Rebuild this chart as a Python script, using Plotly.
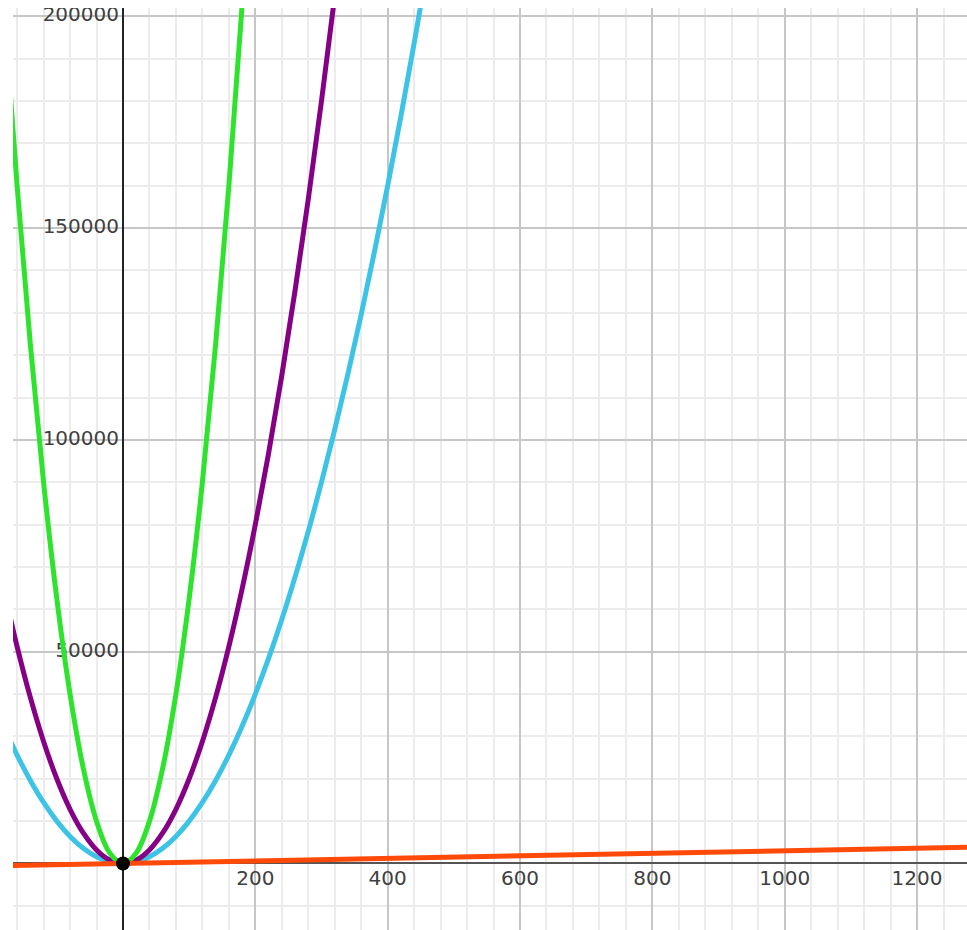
import plotly.graph_objects as go

# Sampled points of each curve
green_x = [-180, -160, -140, -120, -100, -80, -60, -40, -20, 0, 20, 40, 60, 80, 100, 120, 140, 160, 180]
green_y = [202500, 160000, 122500, 90000, 62500, 40000, 22500, 10000, 2500, 0,
           2500, 10000, 22500, 40000, 62500, 90000, 122500, 160000, 202500]

purple_x = [-180, -160, -140, -120, -100, -80, -60, -40, -20, 0, 20, 40, 60, 80, 100,
            120, 140, 160, 180, 200, 220, 240, 260, 280, 300, 320]
purple_y = [64800, 51200, 39200, 28800, 20000, 12800, 7200, 3200, 800, 0, 800, 3200, 7200,
            12800, 20000, 28800, 39200, 51200, 64800, 80000, 96800, 115200, 135200, 156800,
            180000, 204800]

cyan_x = [-180, -160, -140, -120, -100, -80, -60, -40, -20, 0, 20, 40, 60, 80, 100, 120,
          140, 160, 180, 200, 220, 240, 260, 280, 300, 320, 340, 360, 380, 400, 420, 440, 460]
cyan_y = [32400, 25600, 19600, 14400, 10000, 6400, 3600, 1600, 400, 0, 400, 1600, 3600, 6400,
          10000, 14400, 19600, 25600, 32400, 40000, 48400, 57600, 67600, 78400, 90000, 102400,
          115600, 129600, 144400, 160000, 176400, 193600, 211600]

orange_x = [-200, 1300]
orange_y = [-600, 3900]

origin_x = [0]
origin_y = [0]

# Tick labels
x_ticks = [200, 400, 600, 800, 1000, 1200]
y_ticks = [50000, 100000, 150000, 200000]

label_font = dict(family="DejaVu Sans", size=20, color="#404040")
x_label_drop = -1600   # pushes the x labels a little below the axis
y_label_gap = -6       # keeps the y labels clear of the axis

fig = go.Figure()

# Tick labels drawn first so the curves pass over them
fig.add_trace(go.Scatter(
    x=x_ticks, y=[x_label_drop] * len(x_ticks), mode="text",
    text=[str(v) for v in x_ticks], textposition="bottom center",
    textfont=label_font, hoverinfo="skip", showlegend=False))
fig.add_trace(go.Scatter(
    x=[y_label_gap] * len(y_ticks), y=y_ticks, mode="text",
    text=[str(v) for v in y_ticks], textposition="middle left",
    textfont=label_font, hoverinfo="skip", showlegend=False))

curve_w = 5
fig.add_trace(go.Scatter(x=cyan_x, y=cyan_y, mode="lines", line_shape="spline",
                         line=dict(color="#3cc3e6", width=curve_w), showlegend=False))
fig.add_trace(go.Scatter(x=purple_x, y=purple_y, mode="lines", line_shape="spline",
                         line=dict(color="#850085", width=curve_w), showlegend=False))
fig.add_trace(go.Scatter(x=green_x, y=green_y, mode="lines", line_shape="spline",
                         line=dict(color="#2ee32e", width=curve_w), showlegend=False))
fig.add_trace(go.Scatter(x=orange_x, y=orange_y, mode="lines",
                         line=dict(color="#ff4a0a", width=curve_w), showlegend=False))
fig.add_trace(go.Scatter(x=origin_x, y=origin_y, mode="markers",
                         marker=dict(color="black", size=14), showlegend=False))

fig.update_layout(
    width=967, height=930,
    margin=dict(l=13, r=0, t=8, b=0),
    paper_bgcolor="white", plot_bgcolor="white",
    xaxis=dict(range=[-166.2, 1275.5], dtick=200, tick0=0,
               showticklabels=False, ticks="",
               showgrid=True, gridcolor="#c6c6c6", gridwidth=1.5,
               minor=dict(dtick=40, tick0=0, showgrid=True, gridcolor="#ececec", gridwidth=1.5),
               zeroline=True, zerolinecolor="#222222", zerolinewidth=2, showline=False,
               fixedrange=True),
    yaxis=dict(range=[-15700, 201950], dtick=50000, tick0=0,
               showticklabels=False, ticks="",
               showgrid=True, gridcolor="#c6c6c6", gridwidth=1.5,
               minor=dict(dtick=10000, tick0=0, showgrid=True, gridcolor="#ececec", gridwidth=1.5),
               zeroline=True, zerolinecolor="#555555", zerolinewidth=2, showline=False,
               fixedrange=True),
)

fig.write_html("out.html")
